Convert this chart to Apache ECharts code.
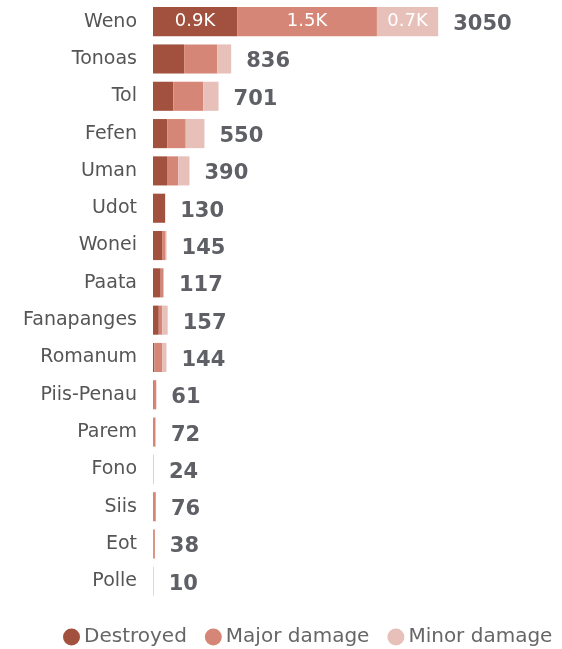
<!DOCTYPE html>
<html>
<head>
<meta charset="utf-8">
<script src="https://cdn.jsdelivr.net/npm/echarts@6/dist/echarts.min.js"></script>
<style>html,body{margin:0;padding:0;background:#fff;}#c{width:562px;height:649px;}</style>
</head>
<body>
<div id="c"></div>
<script>
const categories = ['Weno','Tonoas','Tol','Fefen','Uman','Udot','Wonei','Paata','Fanapanges','Romanum','Piis-Penau','Parem','Fono','Siis','Eot','Polle'];
const destroyed = [900, 333, 217, 152, 150, 130, 97, 82, 62, 15, 8, 0, 0, 0, 2, 0];
const major     = [1495, 356, 321, 198, 120, 0, 38, 25, 37, 82, 27, 22, 3, 30, 18, 2];
const minor     = [655, 147, 163, 200, 120, 0, 10, 10, 58, 47, 0, 10, 7, 2, 0, 6];
const totals    = [3050, 836, 701, 550, 390, 130, 145, 117, 157, 144, 61, 72, 24, 76, 38, 10];
const seriesNames = ['Destroyed', 'Major damage', 'Minor damage'];
const colors = ['#a3513f', '#d68676', '#e8c0ba'];

const inLabel = {
  show: true, position: 'inside', color: '#fff', fontSize: 18,
  fontFamily: 'DejaVu Sans',
  formatter: p => p.value >= 500 ? (p.value / 1000).toFixed(1) + 'K' : ''
};

function mk(name, data, color) {
  return {
    name, type: 'bar', stack: 'a', data, barCategoryGap: '22%',
    itemStyle: { color }, label: inLabel, emphasis: { disabled: true }
  };
}

const chart = echarts.init(document.getElementById('c'), null, { renderer: 'canvas' });
chart.setOption({
  animation: false,
  grid: { left: 153, top: 3, width: 374, height: 597, containLabel: false },
  xAxis: { type: 'value', min: 0, max: 4000, show: false },
  yAxis: {
    type: 'category', data: categories, inverse: true,
    axisLine: { show: false }, axisTick: { show: false },
    axisLabel: { color: '#555', fontSize: 19, fontFamily: 'DejaVu Sans', margin: 16 }
  },
  legend: {
    data: seriesNames, top: 622, left: 58, icon: 'circle',
    itemWidth: 17, itemHeight: 17, itemGap: 18,
    textStyle: { color: '#666', fontSize: 20, fontFamily: 'DejaVu Sans', padding: [0, 0, 0, -1] }
  },
  series: [
    mk(seriesNames[0], destroyed, colors[0]),
    mk(seriesNames[1], major, colors[1]),
    mk(seriesNames[2], minor, colors[2]),
    {
      name: 'Total', type: 'bar', stack: 'a', data: totals.map(() => 0),
      itemStyle: { color: 'rgba(0,0,0,0)' },
      label: {
        show: true, position: 'right', distance: 15, offset: [0, 3],
        color: '#5e6066', fontSize: 21, fontWeight: 'bold', fontFamily: 'DejaVu Sans',
        formatter: p => String(totals[p.dataIndex])
      }
    }
  ]
});
</script>
</body>
</html>
